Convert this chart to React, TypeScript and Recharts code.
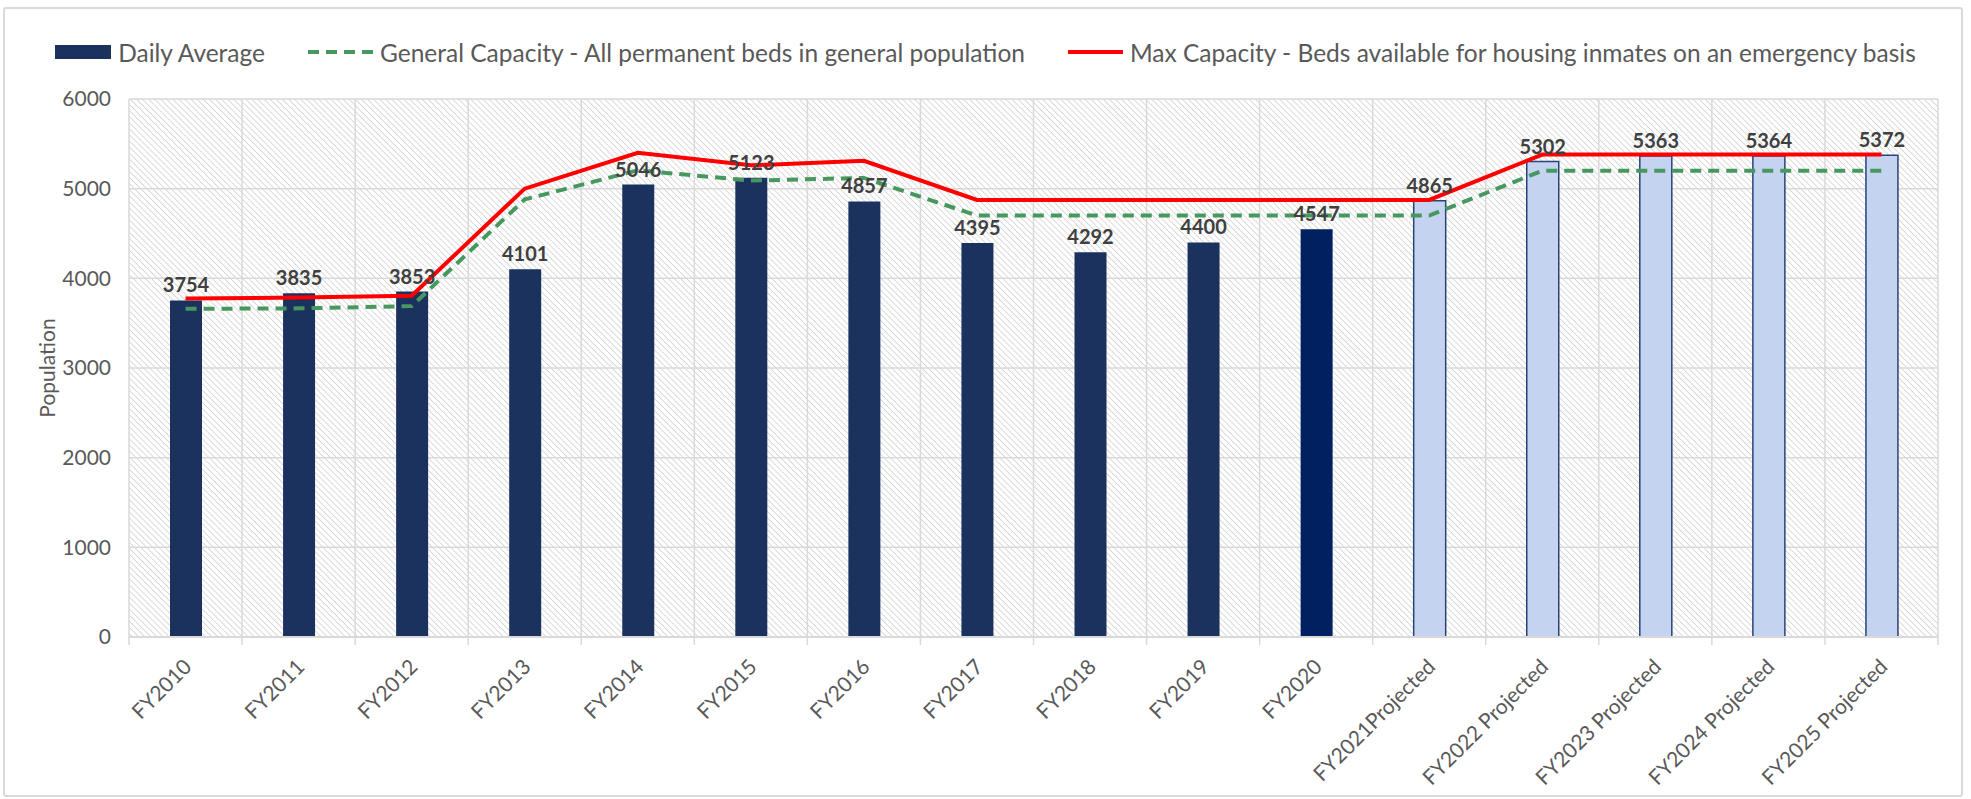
import React from 'react';
import {
  ComposedChart,
  Bar,
  Line,
  XAxis,
  YAxis,
  CartesianGrid,
  Legend,
  LabelList,
  Cell
} from 'recharts';

const FONT = "Lato, 'Open Sans', sans-serif";

const years = [
  'FY2010', 'FY2011', 'FY2012', 'FY2013', 'FY2014', 'FY2015', 'FY2016', 'FY2017',
  'FY2018', 'FY2019', 'FY2020', 'FY2021Projected', 'FY2022 Projected',
  'FY2023 Projected', 'FY2024 Projected', 'FY2025 Projected'
];
const dailyAverage = [3754, 3835, 3853, 4101, 5046, 5123, 4857, 4395, 4292, 4400, 4547, 4865, 5302, 5363, 5364, 5372];
const generalCapacity = [3660, 3665, 3690, 4880, 5205, 5090, 5120, 4700, 4700, 4700, 4700, 4700, 5200, 5200, 5200, 5200];
const maxCapacity = [3775, 3785, 3805, 5000, 5400, 5260, 5310, 4875, 4875, 4875, 4875, 4875, 5380, 5380, 5380, 5380];
const barKinds = [
  'actual', 'actual', 'actual', 'actual', 'actual', 'actual', 'actual', 'actual',
  'actual', 'actual', 'current', 'projected', 'projected', 'projected', 'projected', 'projected'
];
const yTicks = [0, 1000, 2000, 3000, 4000, 5000, 6000];

const barStyles: Record<string, { fill: string; stroke: string; strokeWidth: number }> = {
  actual: { fill: '#1b325f', stroke: 'none', strokeWidth: 0 },
  current: { fill: '#002060', stroke: 'none', strokeWidth: 0 },
  projected: { fill: '#c4d3ef', stroke: '#2a4377', strokeWidth: 1.5 }
};

const data = years.map((year, i) => ({
  year,
  daily: dailyAverage[i],
  general: generalCapacity[i],
  max: maxCapacity[i],
  kind: barKinds[i]
}));

const TICK_MARGIN = 28;

// category label plus the small tick marks at the band edges
const XTick = (props: any) => {
  const { x, y, payload, index, visibleTicksCount } = props;
  const half = payload.offset ?? 0;
  const axisY = -TICK_MARGIN;
  return (
    <g transform={`translate(${x},${y})`}>
      <line x1={-half} x2={-half} y1={axisY} y2={axisY + 8} stroke="#d9d9d9" strokeWidth={1.5} />
      {index === visibleTicksCount - 1 && (
        <line x1={half} x2={half} y1={axisY} y2={axisY + 8} stroke="#d9d9d9" strokeWidth={1.5} />
      )}
      <text
        x={3}
        y={0}
        dy="0.35em"
        textAnchor="end"
        transform="rotate(-45)"
        fill="#595959"
        fontSize={21}
        fontFamily={FONT}
      >
        {payload.value}
      </text>
    </g>
  );
};

const LegendContent = (props: any) => {
  const { payload } = props;
  return (
    <div
      style={{
        height: 85,
        boxSizing: 'border-box',
        paddingTop: 22,
        display: 'flex',
        justifyContent: 'center',
        alignItems: 'flex-start',
        gap: 42,
        fontFamily: FONT,
        fontSize: 24.5,
        color: '#595959'
      }}
    >
      {payload.map((entry: any) => {
        const dash = entry.payload?.strokeDasharray;
        return (
          <div key={entry.value} style={{ display: 'flex', alignItems: 'center', height: 32 }}>
            <svg width={entry.type === 'rect' ? 58 : dash ? 68 : 58} height={16} style={{ marginRight: 5 }}>
              {entry.type === 'rect' ? (
                <rect x={0} y={1} width={56} height={14} fill={entry.color} />
              ) : (
                <line
                  x1={1}
                  x2={dash ? 66 : 56}
                  y1={8}
                  y2={8}
                  stroke={entry.color}
                  strokeWidth={4}
                  strokeDasharray={dash}
                />
              )}
            </svg>
            <span style={{ whiteSpace: 'nowrap' }}>{entry.value}</span>
          </div>
        );
      })}
    </div>
  );
};

const YLabel = (props: any) => {
  const { viewBox } = props;
  const cx = viewBox.x + 26;
  const cy = viewBox.y + viewBox.height / 2;
  return (
    <text
      x={cx}
      y={cy}
      textAnchor="middle"
      dominantBaseline="central"
      transform={`rotate(-90, ${cx}, ${cy})`}
      fill="#595959"
      fontSize={21}
      fontFamily={FONT}
    >
      Population
    </text>
  );
};

const App = () => {
  return (
    <div style={{ position: 'absolute', left: 0, top: 0, width: 1971, height: 799, background: '#fff' }}>
      <div
        style={{
          position: 'absolute',
          left: 3,
          top: 7,
          width: 1956,
          height: 786,
          border: '2px solid #d9d9d9',
          borderRadius: 3
        }}
      />
      <ComposedChart
        width={1971}
        height={799}
        data={data}
        margin={{ top: 14, right: 33, left: 20, bottom: 12 }}
        style={{ position: 'absolute', left: 0, top: 0 }}
      >
        <defs>
          <pattern id="hatch" patternUnits="userSpaceOnUse" width={4.3} height={4.3} patternTransform="rotate(-45)">
            <rect width={4.3} height={4.3} fill="#ffffff" />
            <line x1={0} y1={0} x2={0} y2={4.3} stroke="#d2d2d2" strokeWidth={1.6} />
          </pattern>
        </defs>
        <XAxis
          dataKey="year"
          interval={0}
          height={150}
          axisLine={{ stroke: '#d9d9d9', strokeWidth: 2 }}
          tickLine={false}
          tickSize={0}
          tickMargin={TICK_MARGIN}
          tick={<XTick />}
        />
        <YAxis
          domain={[0, 6000]}
          ticks={yTicks}
          width={109}
          axisLine={false}
          tickLine={false}
          tickSize={0}
          tickMargin={18}
          tick={{ fill: '#595959', fontSize: 21, fontFamily: FONT }}
          label={<YLabel />}
        />
        <CartesianGrid
          fill="url(#hatch)"
          stroke="#d9d9d9"
          strokeWidth={1.5}
          verticalCoordinatesGenerator={({ offset }: any) =>
            years.map((_, i) => offset.left + (offset.width * i) / years.length).concat(offset.left + offset.width)
          }
        />
        <Legend verticalAlign="top" align="center" content={<LegendContent />} wrapperStyle={{ left: 0, width: 1971 }} />
        <Bar
          dataKey="daily"
          name="Daily Average"
          fill="#1b325f"
          barSize={32}
          legendType="rect"
          isAnimationActive={false}
        >
          {data.map((d) => (
            <Cell key={d.year} {...barStyles[d.kind]} />
          ))}
          <LabelList
            dataKey="daily"
            position="top"
            offset={8}
            fill="#404040"
            fontSize={20}
            fontWeight={700}
            fontFamily={FONT}
          />
        </Bar>
        <Line
          type="linear"
          dataKey="general"
          name="General Capacity - All permanent beds in general population"
          stroke="#47985e"
          strokeWidth={4}
          strokeDasharray="11 7"
          dot={false}
          activeDot={false}
          legendType="line"
          isAnimationActive={false}
        />
        <Line
          type="linear"
          dataKey="max"
          name="Max Capacity - Beds available for housing inmates on an emergency basis"
          stroke="#ff0000"
          strokeWidth={4}
          dot={false}
          activeDot={false}
          legendType="line"
          isAnimationActive={false}
        />
      </ComposedChart>
    </div>
  );
};

export default App;
